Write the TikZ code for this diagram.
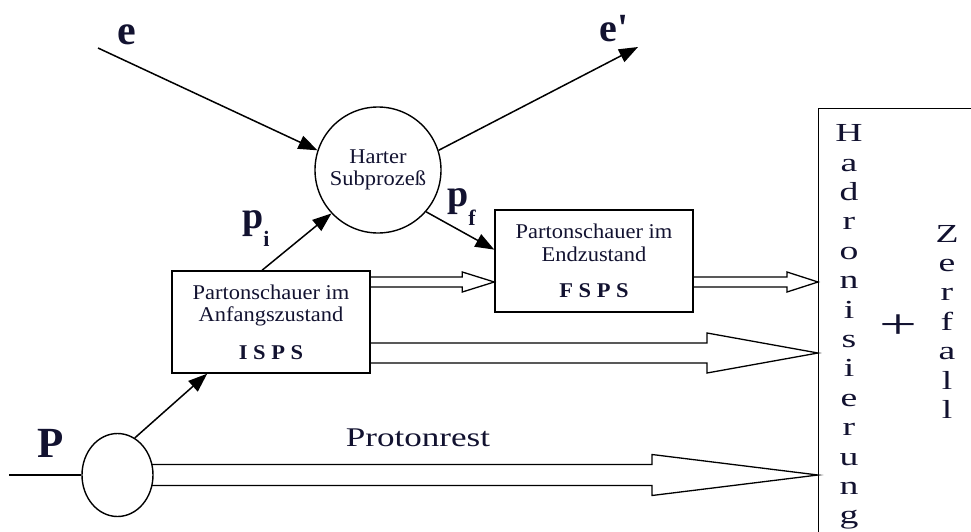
\documentclass[tikz,border=0pt]{standalone}
\usepackage{fontspec}
\setmainfont{Liberation Serif}
\newfontfamily\boxfont{Liberation Serif}[FakeStretch=1.07]
\newfontfamily\restfont{Liberation Serif}[FakeStretch=1.3]
\newfontfamily\stackfont{Liberation Serif}[FakeStretch=1.45]
\newfontfamily\plusfont{Liberation Serif}[FakeStretch=1.6]
\usetikzlibrary{arrows.meta,shapes.geometric,calc}
\definecolor{ink}{RGB}{18,18,48}

% hollow block arrow from a tail point to a tip point:
% #1 tail, #2 tip, #3 half shaft width, #4 half head width, #5 head length
\newcommand\fatarrow[5]{%
  \draw[fat] ($(#1)+(0,-#3)$) -- ($(#2)+(-#5,-#3)$) -- ($(#2)+(-#5,-#4)$)
    -- (#2) -- ($(#2)+(-#5,#4)$) -- ($(#2)+(-#5,#3)$) -- ($(#1)+(0,#3)$);}

\begin{document}
\begin{tikzpicture}[x=1pt,y=-1pt,
  thin/.style={draw=black, line width=1.4pt},
  arr/.style={thin, line width=1.5pt, -{Triangle[length=19pt,width=14pt]}},
  fat/.style={draw=black, line width=1.3pt, line join=miter},
  stepbox/.style={draw=black, line width=1.4pt, minimum width=198pt, minimum height=102pt,
    inner sep=0pt, align=center, text=ink, font=\boxfont\fontsize{21}{22.5}\selectfont},
  bold/.style={text=ink, inner sep=0pt, anchor=base},
  stack/.style={text=ink, inner sep=0pt, anchor=base, align=center,
    font=\stackfont\fontsize{26}{29.4}\selectfont}]
\useasboundingbox (0,0) rectangle (971,532);

% hard scattering and proton blob
\node[circle, draw=black, line width=1.4pt, minimum size=126pt, inner sep=0pt,
  align=center, text=ink, font=\boxfont\fontsize{21}{21.5}\selectfont]
  (hard) at (378,170) {Harter\\Subprozeß};
\node[ellipse, draw=black, line width=1.4pt, minimum width=71pt, minimum height=83pt,
  inner sep=0pt] (pc) at (117.5,475) {};

% parton shower boxes
\node[stepbox] (isps) at (271,322) {Partonschauer im\\Anfangszustand\\[15pt]\textbf{I S P S}};
\node[stepbox] (fsps) at (594,261) {Partonschauer im\\Endzustand\\[14pt]\textbf{F S P S}};

% hadronisation block (runs off the right and bottom edges)
\node[draw=black, line width=1.4pt, anchor=north west, minimum width=300pt,
  minimum height=500pt, inner sep=0pt] (had) at (818,108) {};
% multi-line nodes sit on the baseline of their last line
\node[stack] (hadtxt) at (849,523.9) {H\\a\\d\\r\\o\\n\\i\\s\\i\\e\\r\\u\\n\\g};
\node[stack] (zerf) at (947,418.4) {Z\\e\\r\\f\\a\\l\\l};
\node[text=ink, inner sep=0pt, anchor=base, font=\plusfont\fontsize{42}{42}\selectfont]
  (plus) at (898,338) {+};

% labels
\node[bold, font=\fontsize{42}{42}\selectfont\bfseries] (elab) at (126.5,45) {e};
\node[bold, font=\fontsize{40}{40}\selectfont\bfseries] (eplab) at (614,42) {e\textquotesingle};
\node[bold, font=\fontsize{43}{43}\selectfont\bfseries] (plab) at (51,457) {P};
\node[bold, anchor=base west, font=\fontsize{38}{38}\selectfont\bfseries] (pilab) at (242,228)
  {p\raisebox{-18pt}{\fontsize{22}{22}\selectfont i}};
\node[bold, anchor=base west, font=\fontsize{38}{38}\selectfont\bfseries] (pflab) at (447,206)
  {p\raisebox{-19pt}{\fontsize{22}{22}\selectfont f}};
\node[bold, font=\restfont\fontsize{27}{27}\selectfont] (rest) at (418,446.7) {Protonrest};

% free ends of the lepton and proton lines
\coordinate (e0) at (98,48);
\coordinate (e1) at (638,47);
\coordinate (p0) at (9,475);

% thin connectors
\draw[arr] (e0) -- (hard.162);
\draw[arr] (hard.18) -- (e1);
\draw[arr] ($(isps.north west)!0.455!(isps.north east)$) -- (hard.223);
\draw[arr] (hard.319) -- ($(fsps.north west)!0.39!(fsps.south west)$);
\draw[arr] (pc.65) -- ($(isps.south west)!0.18!(isps.south east)$);
\draw[thin] (p0) -- (pc.west);

% hollow block arrows
\coordinate (t1) at (isps.east |- 0,282);
\coordinate (h1) at (fsps.west |- 0,282);
\coordinate (t2) at (fsps.east |- 0,282);
\coordinate (h2) at (had.west |- 0,282);
\coordinate (t3) at (isps.east |- 0,353);
\coordinate (h3) at (had.west |- 0,353);
\coordinate (t4) at ($(pc.east |- 0,475)+(-1.5,0)$);
\coordinate (h4) at (had.west |- 0,475);
\fatarrow{t1}{h1}{5}{10}{32}
\fatarrow{t2}{h2}{5}{10}{31}
\fatarrow{t3}{h3}{10}{20}{111}
\fatarrow{t4}{h4}{10.5}{20.5}{166}
\end{tikzpicture}
\end{document}
